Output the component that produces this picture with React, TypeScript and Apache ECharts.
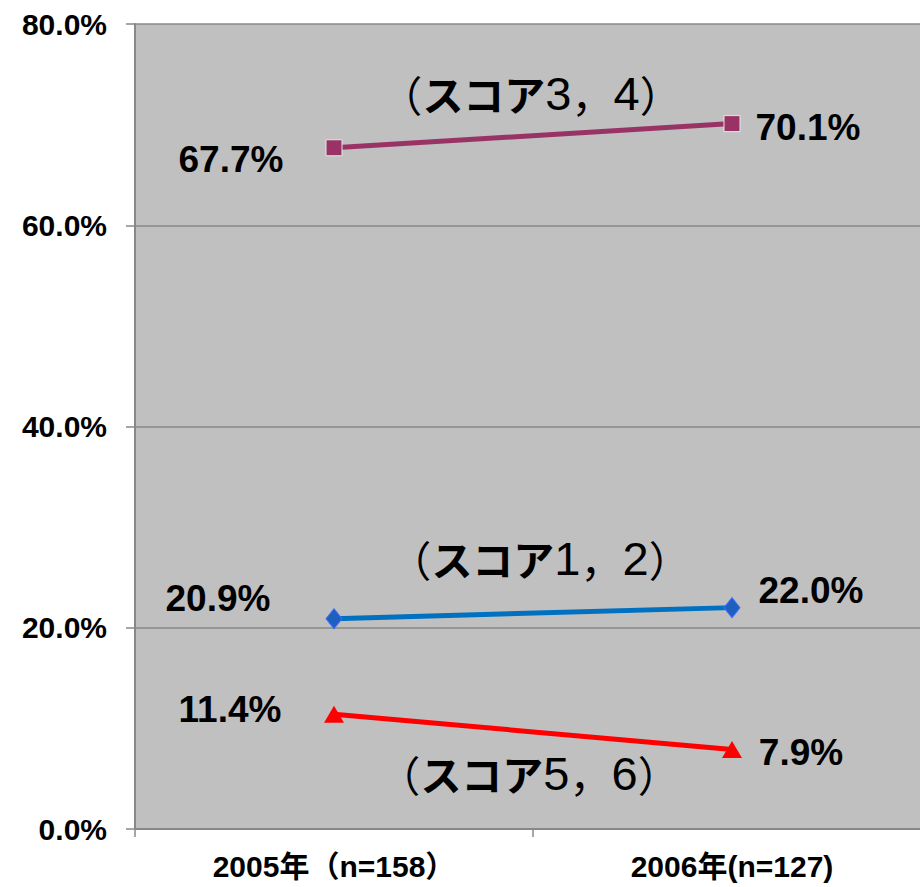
import React, { useEffect, useRef } from "react";
import * as echarts from "echarts";

const categories = ["2005年（n=158）", "2006年(n=127)"];
const score34 = [67.7, 70.1];
const score12 = [20.9, 22.0];
const score56 = [11.4, 7.9];
const yTicks = { min: 0, max: 80, interval: 20 };

const FONT = "'Liberation Sans', Arial, 'Noto Sans CJK JP', sans-serif";
const CJK = "'Noto Sans CJK JP', sans-serif";

function lbl(dx: number, dy: number) {
  return {
    show: true,
    position: "inside",
    align: "center",
    verticalAlign: "middle",
    offset: [dx, dy],
    formatter: (p: any) => p.value.toFixed(1) + "%",
    color: "#000",
    fontSize: 37,
    fontWeight: "bold",
    fontFamily: FONT,
  };
}

function note(x: number, y: number, a: string, b: string) {
  return {
    type: "text",
    x,
    y,
    style: {
      text: `{n|（}{k|スコア}{d|${a}}{n|，}{d|${b}}{n|）}`,
      align: "center",
      verticalAlign: "middle",
      rich: {
        n: { fontFamily: CJK, fontSize: 42, fontWeight: "normal", fill: "#000" },
        k: { fontFamily: CJK, fontSize: 41, fontWeight: "bold", fill: "#000" },
        d: { fontFamily: "'Liberation Sans', Arial, sans-serif", fontSize: 47, fontWeight: "normal", fill: "#000" },
      },
    },
  };
}

export default function App() {
  const ref = useRef<HTMLDivElement>(null);
  useEffect(() => {
    document.body.style.margin = "0";
    const chart = echarts.init(ref.current!, null, { renderer: "svg" });
    chart.setOption({
      animation: false,
      backgroundColor: "#fff",
      grid: { left: 135, top: 24, width: 796, height: 805, backgroundColor: "#c0c0c0", show: true, borderWidth: 0 },
      xAxis: {
        type: "category",
        data: categories,
        axisLine: { lineStyle: { color: "#888", width: 2 } },
        axisTick: { show: true, length: 8, lineStyle: { color: "#888", width: 1.5 } },
        axisLabel: { margin: 22, color: "#000", fontSize: 30, fontWeight: "bold", fontFamily: FONT },
      },
      yAxis: {
        type: "value",
        min: yTicks.min,
        max: yTicks.max,
        interval: yTicks.interval,
        axisLine: { show: true, lineStyle: { color: "#888", width: 2 } },
        axisTick: { show: true, length: 9, lineStyle: { color: "#888", width: 1.5 } },
        splitLine: { lineStyle: { color: "#888", width: 1.5 } },
        axisLabel: {
          margin: 28,
          color: "#000",
          fontSize: 30,
          fontWeight: "bold",
          fontFamily: FONT,
          formatter: (v: number) => v.toFixed(1) + "%",
        },
      },
      series: [
        {
          type: "line",
          data: [
            { value: score34[0], label: lbl(-103, 12) },
            { value: score34[1], label: lbl(76, 4) },
          ],
          lineStyle: { color: "#993366", width: 5 },
          itemStyle: { color: "#993366", borderColor: "#e6e6e6", borderWidth: 1 },
          symbol: "rect",
          symbolSize: 16,
          z: 3,
        },
        {
          type: "line",
          data: [
            { value: score12[0], label: lbl(-116, -20) },
            { value: score12[1], label: lbl(79, -17) },
          ],
          lineStyle: { color: "#0070C0", width: 5 },
          itemStyle: { color: "#1f5fbf", borderColor: "#3b6cff", borderWidth: 1 },
          symbol: "diamond",
          symbolSize: [16, 20],
          z: 3,
        },
        {
          type: "line",
          data: [
            { value: score56[0], label: lbl(-104, -5) },
            { value: score56[1], label: lbl(69, 3) },
          ],
          lineStyle: { color: "#FF0000", width: 5 },
          itemStyle: { color: "#FF0000" },
          symbol: "triangle",
          symbolSize: [20, 17],
          z: 3,
        },
      ],
      graphic: [
        note(531, 93, "3", "4"),
        note(540, 558, "1", "2"),
        note(529, 773, "5", "6"),
      ],
    });
    return () => chart.dispose();
  }, []);
  return (
    <div style={{ width: 920, height: 887, overflow: "hidden" }}>
      <div ref={ref} style={{ width: 940, height: 887 }} />
    </div>
  );
}
